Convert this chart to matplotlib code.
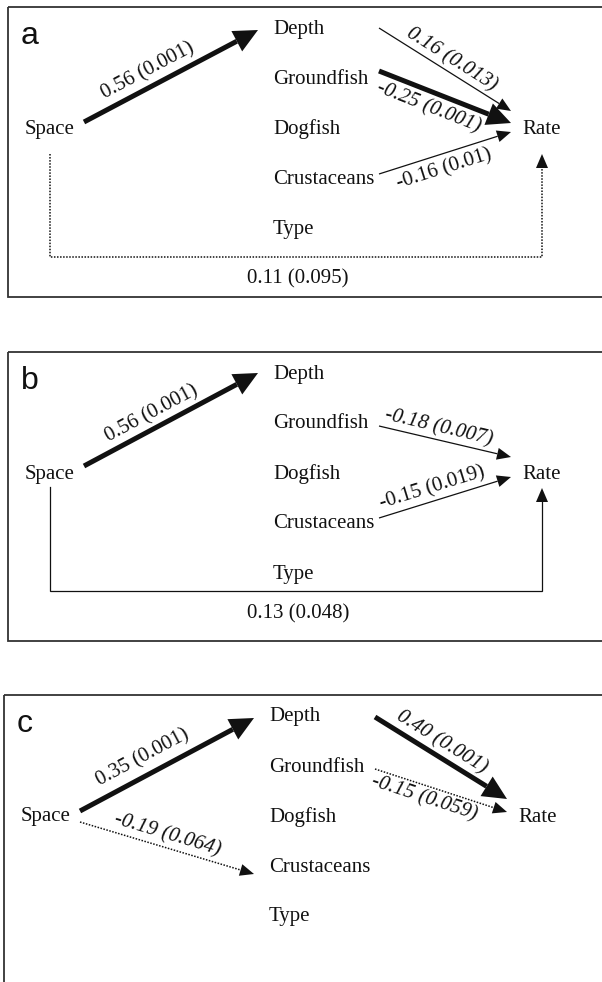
import numpy as np
import matplotlib
matplotlib.use("Agg")
import matplotlib.pyplot as plt
from matplotlib.patches import Rectangle, Polygon

# --- Data: path coefficients (p-values) of the three models ---
panel_labels = ["a", "b", "c"]
mid_nodes = ["Depth", "Groundfish", "Dogfish", "Crustaceans", "Type"]

src_a = ["Space", "Depth", "Groundfish", "Crustaceans", "Space"]
dst_a = ["Depth", "Rate", "Rate", "Rate", "Rate"]
coef_a = [0.56, 0.16, -0.25, -0.16, 0.11]
pval_a = [0.001, 0.013, 0.001, 0.01, 0.095]

src_b = ["Space", "Groundfish", "Crustaceans", "Space"]
dst_b = ["Depth", "Rate", "Rate", "Rate"]
coef_b = [0.56, -0.18, -0.15, 0.13]
pval_b = [0.001, 0.007, 0.019, 0.048]

src_c = ["Space", "Space", "Depth", "Groundfish"]
dst_c = ["Depth", "Crustaceans", "Rate", "Rate"]
coef_c = [0.35, -0.19, 0.40, -0.15]
pval_c = [0.001, 0.064, 0.001, 0.059]

# --- Layout (pixels, y down) ---
W, H = 602, 982
INK = "#111111"
SERIF = "Liberation Serif"
panel_origin = [(8, 7), (8, 352), (4, 695)]
panel_height = [290, 289, 400]
ROW0, ROW_GAP = 22, 50
SPACE_X, MID_X, RATE_X = 42, 265, 534
SRC_X = {"Space": 76}          # default for middle nodes: 371
DST_X = {"Rate": 503}          # default for middle nodes: 250
# per edge: (start dy, end dy, label pos along edge, label offset)
# for the Space->Rate loop: (start dy, end dy, loop y, label gap)
edge_layout = {
    "a": [(-7, 1, 0.41, 15), (-1, -18, 0.5, 12), (-8, -6, 0.42, -16),
          (-5, 3, 0.46, -15), (25, 25, 250, 22)],
    "b": [(-8, -1, 0.43, 14), (2, -17, 0.43, 12), (-6, 3, 0.43, 13),
          (13, 14, 239, 23)],
    "c": [(-6, 1, 0.41, 17), (5, 7, 0.48, 12), (0, -18, 0.45, 13),
          (2, -5, 0.40, -13)],
}


def node_y(name):
    if name in mid_nodes:
        return ROW0 + ROW_GAP * mid_nodes.index(name)
    return ROW0 + ROW_GAP * 2


def edge_style(p):
    # line width (pt), head (length, width) px, linestyle
    if p <= 0.001:
        return 3.6, (24, 23), "-"
    if p <= 0.05:
        return 0.9, (14, 12), "-"
    return 1.1, (14, 12), (0, (1, 1))


def draw_head(ax, tip, u, head):
    hl, hw = head
    n = np.array([-u[1], u[0]])
    base = tip - u * hl
    ax.add_patch(Polygon([tip, base + n * hw / 2, base - n * hw / 2],
                         closed=True, facecolor=INK, edgecolor="none"))
    return base


def draw_panel(ax, k, srcs, dsts, coefs, pvals):
    ox, oy = panel_origin[k]
    ax.add_patch(Rectangle((ox, oy), 700, panel_height[k], fill=False,
                           edgecolor="#333333", lw=1.3))
    ax.text(ox + 13, oy + 37, panel_labels[k], fontsize=23,
            family="Liberation Sans", color=INK, va="baseline", ha="left")
    ax.text(ox + SPACE_X, oy + node_y("Space"), "Space", fontsize=15,
            family=SERIF, color=INK, ha="center", va="center")
    ax.text(ox + RATE_X, oy + node_y("Rate"), "Rate", fontsize=15,
            family=SERIF, color=INK, ha="center", va="center")
    for name in mid_nodes:
        ax.text(ox + MID_X, oy + node_y(name), name, fontsize=15,
                family=SERIF, color=INK, ha="left", va="center")

    for s, d, c, p, lay in zip(srcs, dsts, coefs, pvals,
                               edge_layout[panel_labels[k]]):
        lw, head, ls = edge_style(p)
        label = f"{c:.2f} ({p:g})"
        if s == "Space" and d == "Rate":
            # loop below the diagram
            x0 = ox + SPACE_X
            x1 = ox + RATE_X
            y0 = oy + node_y(s) + lay[0]
            y1 = oy + node_y(d) + lay[1]
            yl = oy + lay[2]
            base = draw_head(ax, np.array([x1, y1], float),
                             np.array([0.0, -1.0]), head)
            ax.plot([x0, x0, x1, x1], [y0, yl, yl, base[1]], color=INK,
                    lw=lw, ls=ls, solid_joinstyle="miter")
            ax.text((x0 + x1) / 2 + 2, yl + lay[3], label, fontsize=15,
                    family=SERIF, color=INK, ha="center", va="center")
            continue
        x0 = ox + SRC_X.get(s, 371)
        x1 = ox + DST_X.get(d, 250)
        y0 = oy + node_y(s) + lay[0]
        y1 = oy + node_y(d) + lay[1]
        p0 = np.array([x0, y0], float)
        p1 = np.array([x1, y1], float)
        u = (p1 - p0) / np.hypot(*(p1 - p0))
        base = draw_head(ax, p1, u, head)
        ax.plot([x0, base[0]], [y0, base[1]], color=INK, lw=lw, ls=ls,
                solid_capstyle="butt")
        # label: along the edge, shifted to one side
        up = np.array([u[1], -u[0]])
        if up[1] > 0:
            up = -up
        pos = p0 + (p1 - p0) * lay[2] + up * lay[3]
        rot = np.degrees(np.arctan2(-(y1 - y0), x1 - x0))
        ax.text(pos[0], pos[1], label, fontsize=15, family=SERIF, color=INK,
                rotation=rot, rotation_mode="anchor", ha="center",
                va="center", style="italic" if rot < 0 else "normal")


fig = plt.figure(figsize=(W / 100, H / 100), dpi=100)
ax = fig.add_axes([0, 0, 1, 1])
ax.set_xlim(0, W)
ax.set_ylim(H, 0)
ax.axis("off")

draw_panel(ax, 0, src_a, dst_a, coef_a, pval_a)
draw_panel(ax, 1, src_b, dst_b, coef_b, pval_b)
draw_panel(ax, 2, src_c, dst_c, coef_c, pval_c)

fig.savefig("out.png", dpi=100, facecolor="white")
